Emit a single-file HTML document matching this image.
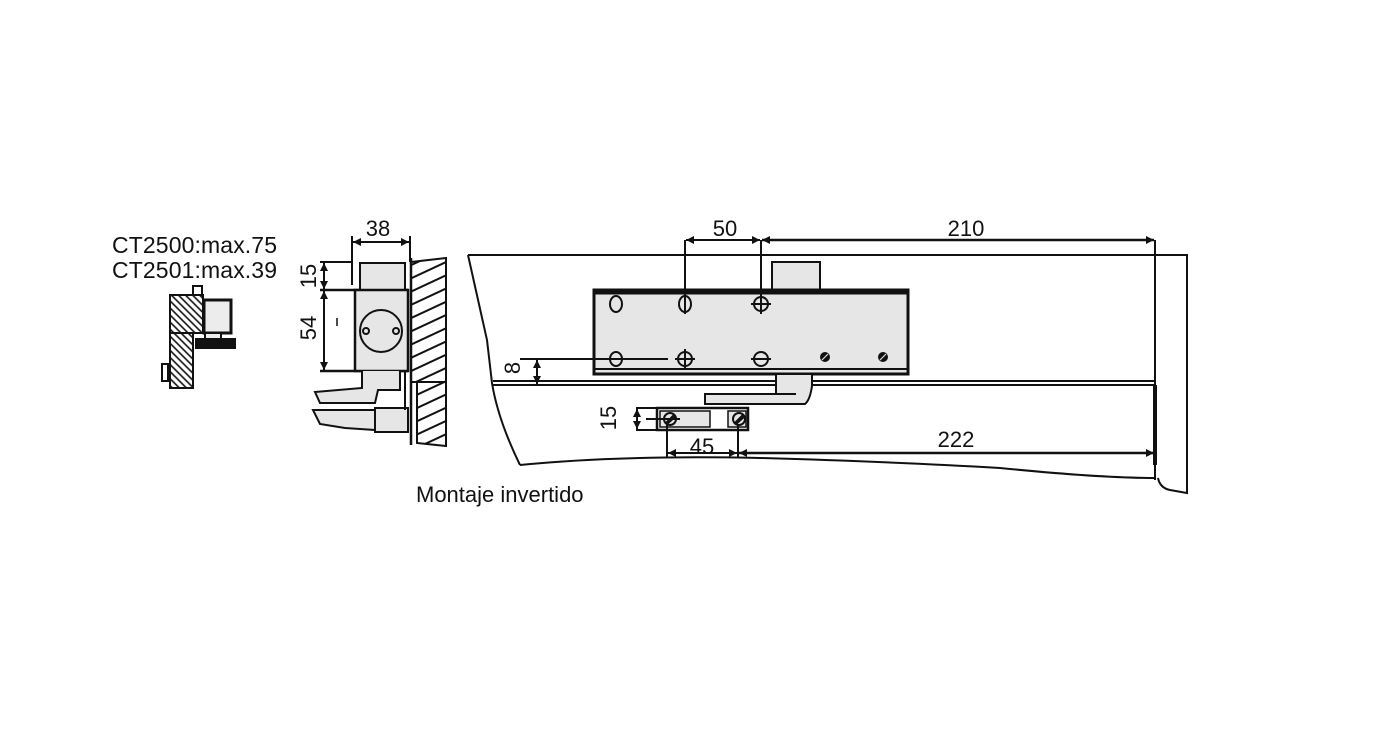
<!DOCTYPE html>
<html><head><meta charset="utf-8"><style>
html,body{margin:0;padding:0;background:#fff}
svg{display:block}
text{font-family:"Liberation Sans",sans-serif;fill:#111}
</style></head><body>
<svg width="1399" height="730" viewBox="0 0 1399 730" xmlns="http://www.w3.org/2000/svg">
<defs>
<pattern id="h" width="12" height="12" patternUnits="userSpaceOnUse" patternTransform="rotate(-25)">
<rect width="12" height="12" fill="#fff"/><line x1="0" y1="6" x2="12" y2="6" stroke="#111" stroke-width="2"/></pattern>
<pattern id="h2" width="5" height="5" patternUnits="userSpaceOnUse" patternTransform="rotate(45)">
<rect width="5" height="5" fill="#fff"/><line x1="0" y1="2.5" x2="5" y2="2.5" stroke="#111" stroke-width="1.6"/></pattern>
<marker id="a" viewBox="0 0 10 10" refX="10" refY="5" markerWidth="12" markerHeight="8" orient="auto-start-reverse" markerUnits="userSpaceOnUse"><path d="M0,0 L10,5 L0,10 z" fill="#111"/></marker>
</defs>
<g stroke="#111" fill="none" stroke-width="2">

<text x="112" y="253" font-size="23" stroke="none" textLength="165">CT2500:max.75</text>
<text x="112" y="278" font-size="23" stroke="none" textLength="165">CT2501:max.39</text>

<rect x="193" y="286" width="9" height="10" fill="#fff"/>
<rect x="170" y="295" width="33" height="38" fill="url(#h2)"/>
<rect x="170" y="333" width="23" height="55" fill="url(#h2)"/>
<rect x="204" y="300" width="27" height="33" fill="#ececec" stroke-width="3"/>
<rect x="196" y="339" width="39" height="9" fill="#111"/>
<rect x="205" y="333" width="16" height="6" fill="#ececec"/>
<rect x="162" y="364" width="6" height="17" fill="#fff"/>

<line x1="352" y1="236" x2="352" y2="285"/>
<line x1="410" y1="236" x2="410" y2="262"/>
<line x1="353" y1="242" x2="409" y2="242" marker-start="url(#a)" marker-end="url(#a)"/>
<text x="378" y="236" font-size="22" text-anchor="middle" stroke="none">38</text>
<line x1="320" y1="262" x2="352" y2="262"/>
<line x1="320" y1="290" x2="408" y2="290" stroke-width="2.5"/>
<line x1="320" y1="371" x2="408" y2="371" stroke-width="2.5"/>
<line x1="324" y1="263" x2="324" y2="289" marker-start="url(#a)" marker-end="url(#a)"/>
<line x1="324" y1="291" x2="324" y2="370" marker-start="url(#a)" marker-end="url(#a)"/>
<text transform="translate(316,276) rotate(-90)" font-size="22" text-anchor="middle" stroke="none">15</text>
<text transform="translate(316,328) rotate(-90)" font-size="22" text-anchor="middle" stroke="none">54</text>
<line x1="337" y1="318" x2="337" y2="326" stroke-width="1.5"/>
<path d="M411,262 L446,258 L446,382 L411,382 Z" fill="url(#h)"/>
<path d="M411,258 L411,445" stroke-width="2.5"/>
<path d="M417,382 L446,382 L446,446 L417,443 Z" fill="url(#h)"/>
<rect x="360" y="263" width="45" height="27" fill="#e6e6e6"/>
<rect x="355" y="290" width="53" height="81" fill="#e6e6e6" stroke-width="2.5"/>
<circle cx="381" cy="331" r="21" fill="#e6e6e6"/>
<circle cx="366" cy="331" r="3"/><circle cx="396" cy="331" r="3"/>
<path d="M362,371 L362,388 L315,392 L320,403 L375,403 L378,390 L400,390 L400,371" fill="#e6e6e6"/>
<path d="M313,410 L375,410 L405,410 L405,430 L375,430 L345,428 L320,424 Z" fill="#e6e6e6"/>
<rect x="375" y="408" width="33" height="24" fill="#e6e6e6"/>
<line x1="405" y1="372" x2="405" y2="410"/>

<path d="M468,255 L1187,255 L1187,493 L1170,490 Q1160,488 1158,478"/>
<path d="M468,255 Q478,300 487,340 L492,383 Q498,420 520,465"/>
<path d="M520,465 Q620,455 760,458 Q900,462 1000,468 Q1100,478 1155,478"/>
<line x1="493" y1="381" x2="1155" y2="381"/>
<line x1="493" y1="385" x2="1155" y2="385"/>
<line x1="1155" y1="240" x2="1155" y2="480"/>
<line x1="1155" y1="385" x2="1155" y2="465" stroke-width="4"/>

<rect x="772" y="262" width="48" height="28" fill="#e6e6e6"/>
<rect x="594" y="290" width="314" height="84" fill="#e6e6e6" stroke-width="3"/>
<line x1="594" y1="292" x2="908" y2="292" stroke-width="5"/>
<line x1="594" y1="369" x2="908" y2="369"/>
<ellipse cx="616" cy="304" rx="6" ry="8"/>
<ellipse cx="685" cy="304" rx="6" ry="8"/>
<line x1="685" y1="294" x2="685" y2="314"/>
<circle cx="761" cy="304" r="7"/><line x1="751" y1="304" x2="771" y2="304"/><line x1="761" y1="294" x2="761" y2="314"/>
<ellipse cx="616" cy="359" rx="6" ry="7"/>
<circle cx="685" cy="359" r="7"/><line x1="675" y1="359" x2="695" y2="359"/><line x1="685" y1="349" x2="685" y2="369"/>
<ellipse cx="761" cy="359" rx="7" ry="7"/><line x1="751" y1="359" x2="771" y2="359"/>
<circle cx="825" cy="357" r="4" fill="#111"/><line x1="822" y1="360" x2="828" y2="354" stroke="#ddd" stroke-width="1.2"/>
<circle cx="883" cy="357" r="4" fill="#111"/><line x1="880" y1="360" x2="886" y2="354" stroke="#ddd" stroke-width="1.2"/>
<line x1="685" y1="240" x2="685" y2="294"/>
<line x1="761" y1="240" x2="761" y2="294"/>
<line x1="686" y1="240" x2="760" y2="240" marker-start="url(#a)" marker-end="url(#a)"/>
<line x1="762" y1="240" x2="1154" y2="240" marker-start="url(#a)" marker-end="url(#a)" stroke-width="2.5"/>
<text x="725" y="236" font-size="22" text-anchor="middle" stroke="none">50</text>
<text x="966" y="236" font-size="22" text-anchor="middle" stroke="none">210</text>
<line x1="520" y1="359" x2="668" y2="359"/>
<line x1="537" y1="360" x2="537" y2="384" marker-start="url(#a)" marker-end="url(#a)"/>
<text transform="translate(520,368) rotate(-90)" font-size="22" text-anchor="middle" stroke="none">8</text>
<path d="M776,374 L812,374 L812,386 Q810,400 805,404 L705,404 L705,394 L776,394 Z" fill="#e6e6e6"/>
<line x1="776" y1="394" x2="796" y2="394"/>
<rect x="657" y="408" width="91" height="22" fill="#fff" stroke-width="2.5"/>
<rect x="660" y="411" width="50" height="16" fill="#e6e6e6" stroke-width="1.5"/>
<rect x="728" y="411" width="18" height="16" fill="#e6e6e6" stroke-width="1.5"/>
<circle cx="670" cy="419" r="6"/><line x1="666" y1="423" x2="674" y2="415"/><line x1="667" y1="424" x2="676" y2="416"/>
<circle cx="739" cy="419" r="6"/><line x1="735" y1="423" x2="743" y2="415"/><line x1="736" y1="424" x2="745" y2="416"/>
<line x1="636" y1="408" x2="657" y2="408"/><line x1="636" y1="430" x2="657" y2="430"/>
<line x1="637" y1="409" x2="637" y2="429" marker-start="url(#a)" marker-end="url(#a)"/>
<line x1="646" y1="419" x2="680" y2="419"/>
<text transform="translate(616,418) rotate(-90)" font-size="22" text-anchor="middle" stroke="none">15</text>
<line x1="667" y1="425" x2="667" y2="458"/>
<line x1="738" y1="425" x2="738" y2="458"/>
<line x1="668" y1="453" x2="737" y2="453" marker-start="url(#a)" marker-end="url(#a)"/>
<line x1="739" y1="453" x2="1154" y2="453" marker-start="url(#a)" marker-end="url(#a)" stroke-width="2.5"/>
<text x="702" y="454" font-size="22" text-anchor="middle" stroke="none">45</text>
<text x="956" y="447" font-size="22" text-anchor="middle" stroke="none">222</text>

<text x="416" y="502" font-size="22" stroke="none">Montaje invertido</text>
</g>
</svg>
</body></html>
